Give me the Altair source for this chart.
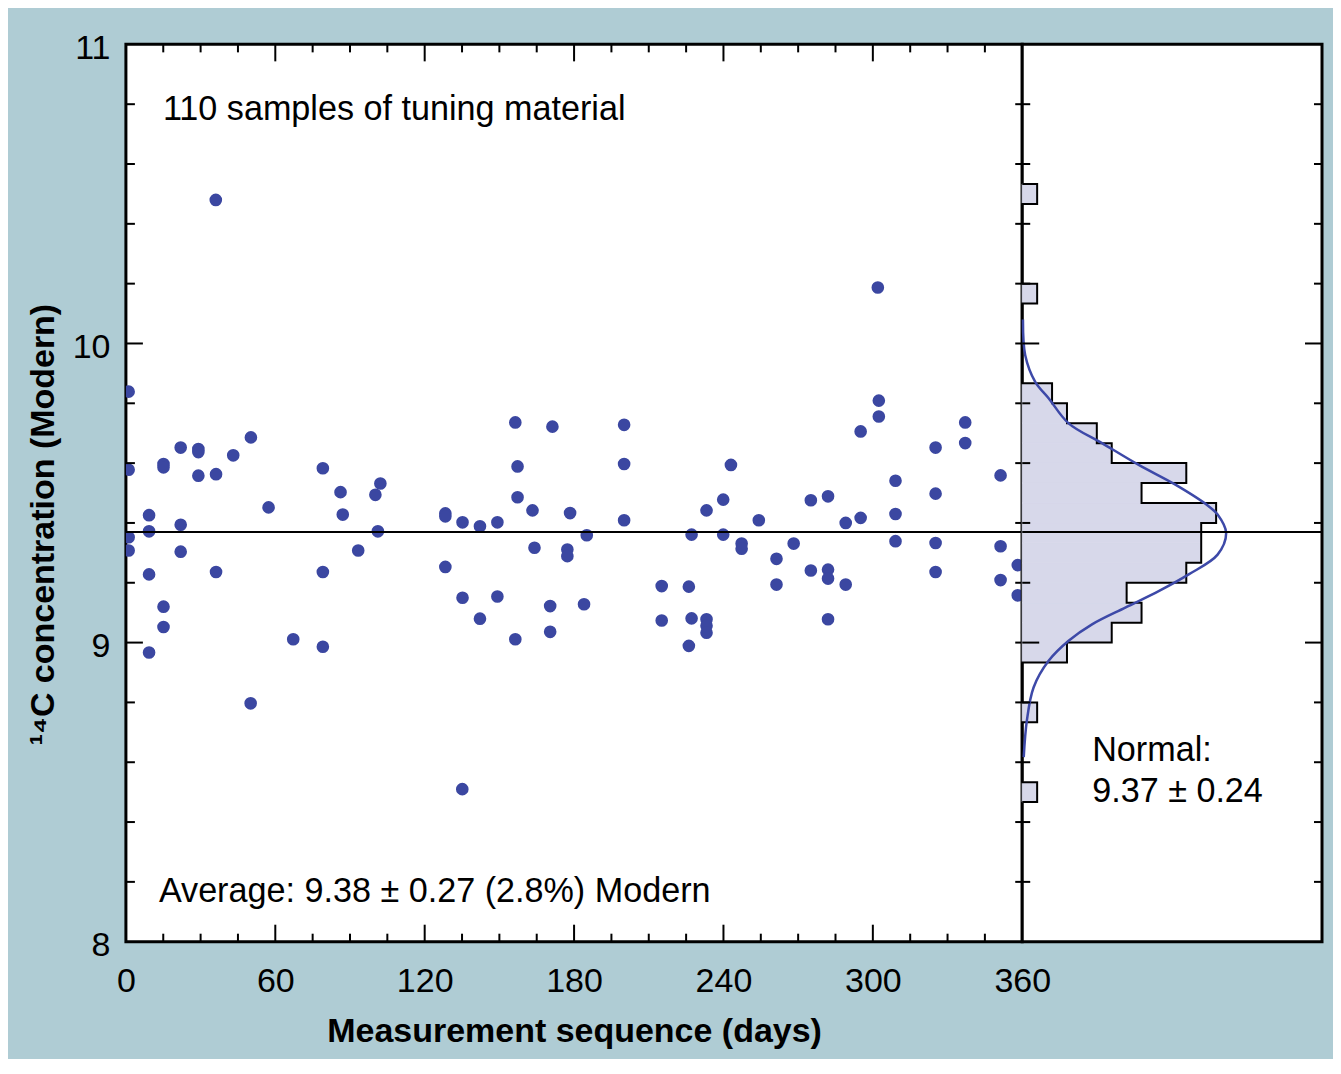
import altair as alt
import pandas as pd

# ---------------- data ----------------
days = [1.1, 1.1, 1.1, 1.1,
        9.3, 9.3, 9.3, 9.3,
        15.1, 15.1, 15.1, 15.1,
        22.0, 22.0, 22.0,
        29.1, 29.1, 29.1,
        36.2, 36.2, 36.1,
        43.1, 50.2, 50.1,
        57.3, 67.2,
        79.1, 79.1, 79.1,
        86.2, 87.1, 93.3,
        100.2, 102.2, 101.2,
        128.3, 128.3, 128.3,
        135.2, 135.2, 135.1,
        142.2, 142.2,
        149.2, 149.2,
        156.4, 157.3, 157.3, 156.4,
        163.3, 164.1,
        171.3, 170.4, 170.4,
        178.4, 177.3, 177.3,
        185.1, 184.0,
        200.1, 200.1, 200.1,
        215.2, 215.2,
        226.1, 226.1,
        227.2, 227.2,
        233.2, 233.2, 233.2, 233.2,
        239.9, 239.9,
        243.0,
        247.3, 247.3,
        254.2,
        261.3, 261.3,
        268.2,
        275.1, 275.1,
        282.0, 282.0, 282.0, 282.0,
        289.1, 289.1,
        295.1, 295.1,
        302.4, 302.4, 302.0,
        309.1, 309.1, 309.1,
        325.2, 325.2, 325.2, 325.2,
        337.1, 337.1,
        351.3, 351.3, 351.3,
        358.2, 358.2]

conc = [9.839, 9.578, 9.352, 9.308,
        9.426, 9.372, 9.228, 8.967,
        9.597, 9.586, 9.120, 9.052,
        9.652, 9.394, 9.304,
        9.647, 9.637, 9.558,
        9.563, 9.236, 10.480,
        9.626, 9.686, 8.797,
        9.452, 9.011,
        9.583, 9.236, 8.986,
        9.503, 9.428, 9.308,
        9.494, 9.532, 9.372,
        9.432, 9.422, 9.253,
        9.402, 9.150, 8.510,
        9.389, 9.080,
        9.402, 9.154,
        9.736, 9.589, 9.486, 9.011,
        9.442, 9.317,
        9.722, 9.122, 9.036,
        9.433, 9.311, 9.289,
        9.359, 9.128,
        9.728, 9.597, 9.409,
        9.189, 9.074,
        9.187, 8.989,
        9.361, 9.081,
        9.442, 9.078, 9.056, 9.033,
        9.478, 9.361,
        9.594,
        9.331, 9.314,
        9.409,
        9.280, 9.194,
        9.331,
        9.476, 9.241,
        9.489, 9.244, 9.214, 9.078,
        9.400, 9.194,
        9.706, 9.417,
        9.809, 9.756, 10.187,
        9.541, 9.430, 9.339,
        9.652, 9.498, 9.333, 9.236,
        9.736, 9.667,
        9.559, 9.322, 9.209,
        9.259, 9.158]

mean_line = [9.37]

# histogram: bins of width 1/15 starting at 8.4667
hist_start = 8.4667
hist_width = 1.0 / 15.0
hist_counts = [1, 0, 0, 0, 1, 0, 0, 3, 6, 8, 7, 11, 12, 12, 13, 8,
               11, 6, 5, 3, 2, 0, 0, 0, 0, 1, 0, 0, 0, 0, 1]

# fitted normal curve (count, value)
curve_count = [0.05, 0.2, 0.87, 1.77, 3.11, 5.35, 7.81, 10.27, 12.5, 13.1, 13.67,
               13.1, 11.16, 9.15, 6.91, 4.68, 3.11, 1.77, 0.76, 0.31, 0.1]
curve_value = [10.08, 9.961, 9.872, 9.817, 9.733, 9.667, 9.594, 9.528, 9.456, 9.428, 9.367,
               9.294, 9.228, 9.172, 9.117, 9.061, 9.006, 8.939, 8.85, 8.739, 8.617]

x_labels = [0, 60, 120, 180, 240, 300, 360]
y_labels = [8, 9, 10, 11]
x_minor = [15, 30, 45, 75, 90, 105, 135, 150, 165, 195, 210, 225, 255, 270, 285, 315, 330, 345]
x_major = [60, 120, 180, 240, 300]
y_minor = [8.2, 8.4, 8.6, 8.8, 9.2, 9.4, 9.6, 9.8, 10.2, 10.4, 10.6, 10.8]
y_major = [9, 10]

title_text = "110 samples of tuning material"
avg_text = "Average: 9.38 ± 0.27 (2.8%) Modern"
normal_text = ["Normal:", "9.37 ± 0.24"]

# ---------------- styling ----------------
FONT = "Liberation Sans"
BG = "#afccd4"
DOT = "#3b47a1"
CURVE = "#3d49a8"
FILL = "#d7d8ea"
W1, W2, H = 897, 300, 898
TXT = 34.2

xs = alt.Scale(domain=[0, 360], nice=False, zero=False)
ys = alt.Scale(domain=[8, 11], nice=False, zero=False)
hs = alt.Scale(domain=[0, 20.1], nice=False, zero=False)

XT = "Measurement sequence (days)"
YT = "¹⁴C concentration (Modern)"

XAXIS = alt.Axis(values=x_labels, title=XT,
                 ticks=False, domain=False, grid=False,
                 labelPadding=23, titlePadding=16,
                 labelFontSize=34, titleFontSize=34, titleFontWeight="bold",
                 labelFont=FONT, titleFont=FONT,
                 labelColor="black", titleColor="black",
                 labelFlush=False, labelOverlap=False)
YAXIS = alt.Axis(values=y_labels, title=YT,
                 ticks=False, domain=False, grid=False,
                 labelPadding=16, titlePadding=11,
                 minExtent=54, maxExtent=54,
                 labelFontSize=34, titleFontSize=34, titleFontWeight="bold",
                 labelFont=FONT, titleFont=FONT,
                 labelColor="black", titleColor="black",
                 labelFlush=False, labelOverlap=False,
                 labelBaseline="middle", labelOffset=4, titleY=480)

# ---------------- scatter panel ----------------
pts = pd.DataFrame({"day": days, "conc": conc})

points = alt.Chart(pts).mark_circle(size=160, color=DOT, opacity=1, clip=True).encode(
    x=alt.X("day:Q", scale=xs, axis=XAXIS, title=XT),
    y=alt.Y("conc:Q", scale=ys, axis=YAXIS, title=YT),
)

mean_df = pd.DataFrame({"m": mean_line})
mean_rule = alt.Chart(mean_df).mark_rule(color="black", strokeWidth=2).encode(
    y=alt.Y("m:Q", scale=ys, axis=YAXIS, title=YT))
mean_rule2 = alt.Chart(mean_df).mark_rule(color="black", strokeWidth=2).encode(
    y=alt.Y("m:Q", scale=ys, axis=None))


def xticks(vals, length):
    d = pd.DataFrame({"t": vals})
    base = alt.Chart(d).mark_rule(color="black", strokeWidth=2)
    enc_x = alt.X("t:Q", scale=xs, axis=XAXIS, title=XT)
    bottom = base.encode(x=enc_x, y=alt.value(H), y2=alt.value(H - length))
    top = base.encode(x=enc_x, y=alt.value(0), y2=alt.value(length))
    return [bottom, top]


def yticks(vals, x0, x1, axis):
    d = pd.DataFrame({"t": vals})
    if axis is None:
        enc_y = alt.Y("t:Q", scale=ys, axis=None)
    else:
        enc_y = alt.Y("t:Q", scale=ys, axis=axis, title=YT)
    return alt.Chart(d).mark_rule(color="black", strokeWidth=2).encode(
        y=enc_y, x=alt.value(x0), x2=alt.value(x1))


scatter_ticks = (xticks(x_minor, 8) + xticks(x_major, 17) +
                 [yticks(y_minor, 0, 9, YAXIS), yticks(y_major, 0, 17, YAXIS),
                  yticks(y_minor + y_major, W1, W1 - 7, YAXIS)])


def label(text, x, y):
    return alt.Chart(pd.DataFrame({"t": [text]})).mark_text(
        align="left", baseline="alphabetic", fontSize=TXT, font=FONT, color="black").encode(
        x=alt.value(x), y=alt.value(y), text="t:N")


txt1 = label(title_text, 37, 76)
txt2 = label(avg_text, 33, 858)

scatter = alt.layer(points, mean_rule, *scatter_ticks, txt1, txt2).properties(width=W1, height=H)

# ---------------- histogram panel ----------------
rows = []
for k, c in enumerate(hist_counts):
    lo = hist_start + k * hist_width
    rows.append({"lo": lo, "hi": lo + hist_width, "count": c})
hist = pd.DataFrame(rows)
hist_nz = hist[hist["count"] > 0]

bars = alt.Chart(hist_nz).mark_rect(color=FILL, stroke=FILL, strokeWidth=1).encode(
    x=alt.X("count:Q", scale=hs, axis=None), x2=alt.datum(0),
    y=alt.Y("lo:Q", scale=ys, axis=None), y2="hi:Q")

# staircase outline (from the top bin downward)
outline_rows = []
top_first = hist.iloc[::-1].reset_index(drop=True)
outline_rows.append({"cnt": 0, "edge": top_first.loc[0, "hi"], "o": 0})
for i, r in top_first.iterrows():
    outline_rows.append({"cnt": r["count"], "edge": r["hi"], "o": i + 1})
outline_rows.append({"cnt": 0, "edge": top_first.iloc[-1]["lo"], "o": len(top_first) + 1})
outline = pd.DataFrame(outline_rows)

stairs = alt.Chart(outline).mark_line(interpolate="step-before", color="black", strokeWidth=2).encode(
    x=alt.X("cnt:Q", scale=hs, axis=None),
    y=alt.Y("edge:Q", scale=ys, axis=None),
    order="o:Q")

curve = alt.Chart(pd.DataFrame({"c": curve_count, "v": curve_value,
                                "i": list(range(len(curve_count)))})).mark_line(
    interpolate="catmull-rom", color=CURVE, strokeWidth=2.5).encode(
    x=alt.X("c:Q", scale=hs, axis=None),
    y=alt.Y("v:Q", scale=ys, axis=None),
    order="i:Q")

hist_ticks = [yticks(y_minor, 0, 8, None), yticks(y_major, 0, 17, None),
              yticks(y_minor, W2, W2 - 8, None), yticks(y_major, W2, W2 - 17, None)]

ntxt1 = label(normal_text[0], 70, 717)
ntxt2 = label(normal_text[1], 70, 758)

histo = alt.layer(bars, stairs, curve, mean_rule2, *hist_ticks, ntxt1, ntxt2).properties(width=W2, height=H)

chart = alt.hconcat(scatter, histo, spacing=0, bounds="flush").resolve_scale(
    x="independent", y="independent").configure_view(
    stroke="black", strokeWidth=3, fill="white").properties(
    background=BG, padding={"left": 17, "top": 21, "right": 8, "bottom": 8})

chart.save("out.html", embed_options={"renderer": "svg", "actions": False})
